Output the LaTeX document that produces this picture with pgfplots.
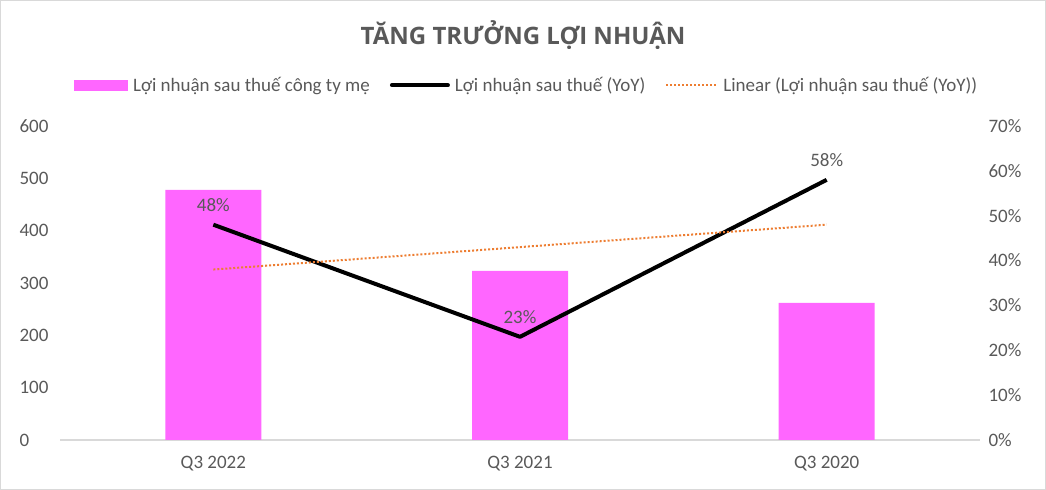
\documentclass[border=0pt]{standalone}
\usepackage{fontspec}
\setmainfont{Carlito}
\newfontfamily\titlefont{Open Sans}
\usepackage{pgfplots}
\pgfplotsset{compat=1.18}
\definecolor{barpink}{HTML}{FF66FF}
\definecolor{txtgray}{HTML}{595959}
\definecolor{linegray}{HTML}{D9D9D9}
\definecolor{trendorange}{HTML}{ED7D31}

\begin{document}
\begin{tikzpicture}
\path[use as bounding box] (0,0) rectangle (1046bp,490bp);
\draw[linegray, line width=1bp] (0.5bp,0.5bp) rectangle (1045.5bp,489.5bp);
\node[text=txtgray, font=\titlefont\fontsize{24bp}{27bp}\selectfont\bfseries] at (523bp,455bp) {TĂNG TRƯỞNG LỢI NHUẬN};

% bars, left axis
\begin{axis}[
    at={(60bp,50bp)}, anchor=south west,
    scale only axis, width=920bp, height=314bp,
    xmin=-0.5, xmax=2.5, ymin=0, ymax=600,
    ytick={0,100,...,600},
    xtick={0,1,2}, xticklabels={Q3 2022,Q3 2021,Q3 2020},
    axis x line*=bottom, axis y line*=left,
    y axis line style={draw=none},
    x axis line style={draw=linegray, line width=1.5bp, -},
    major tick length=0pt,
    /pgf/number format/assume math mode=true,
    ticklabel style={text=txtgray, font=\fontsize{19bp}{22bp}\selectfont},
    yticklabel style={xshift=-44bp, anchor=west},
    xticklabel style={yshift=-13bp},
    ybar, bar width=96bp,
]
\addplot[fill=barpink, draw=none] coordinates {(0,478) (1,323) (2,262)};
\end{axis}

% growth line and trend, right axis
\begin{axis}[
    at={(60bp,50bp)}, anchor=south west,
    scale only axis, width=920bp, height=314bp,
    xmin=-0.5, xmax=2.5, ymin=0, ymax=70,
    ytick={0,10,...,70},
    yticklabel={\pgfmathprintnumber{\tick}\%},
    axis x line=none, axis y line*=right,
    y axis line style={draw=none},
    major tick length=0pt,
    /pgf/number format/assume math mode=true,
    ticklabel style={text=txtgray, font=\fontsize{19bp}{22bp}\selectfont},
    yticklabel style={xshift=5bp},
    legend columns=3,
    legend style={at={(0.507,1.13)}, anchor=center, draw=none, fill=none,
        font=\fontsize{19bp}{22bp}\selectfont, text=txtgray,
        /tikz/every even column/.append style={column sep=18bp}},
]
\addlegendimage{legend image code/.code={\fill[barpink] (0bp,-5bp) rectangle (53bp,5bp); \path (57bp,0bp);}}
\addlegendentry{Lợi nhuận sau thuế công ty mẹ}
\addplot[black, line width=4bp, line join=round,
    nodes near coords={\pgfmathprintnumber{\pgfplotspointmeta}\%},
    point meta=y,
    every node near coord/.append style={text=txtgray, font=\fontsize{19bp}{22bp}\selectfont, yshift=8bp},
    legend image code/.code={\draw[black, line width=4bp, line cap=round] (0bp,0bp) -- (56bp,0bp); \path (59bp,0bp);}]
    coordinates {(0,48) (1,23) (2,58)};
\addlegendentry{Lợi nhuận sau thuế (YoY)}
\addplot[trendorange, line width=2bp, dotted,
    legend image code/.code={\draw[trendorange, line width=2bp, dotted] (0bp,0bp) -- (50bp,0bp); \path (54bp,0bp);}]
    coordinates {(0,38) (1,43) (2,48)};
\addlegendentry{Linear (Lợi nhuận sau thuế (YoY))}
\end{axis}
\end{tikzpicture}
\end{document}
